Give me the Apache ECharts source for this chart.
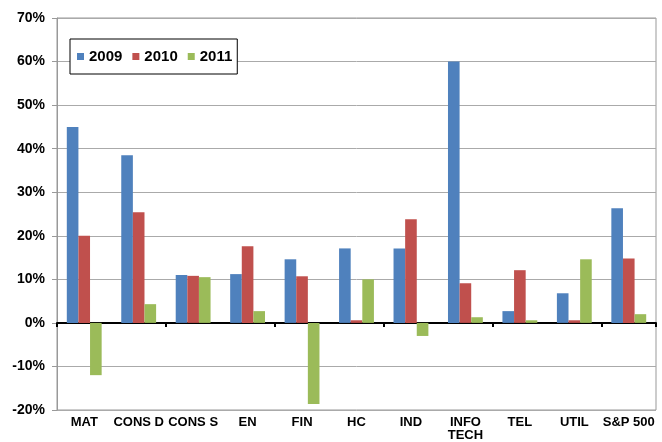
<!DOCTYPE html>
<html><head><meta charset="utf-8">
<script src="https://cdn.jsdelivr.net/npm/echarts@6/dist/echarts.min.js"></script>
<style>html,body{margin:0;padding:0;background:#fff}#c{width:662px;height:442px}</style>
</head><body><div id="c"></div>
<script>
const categories = ['MAT','CONS D','CONS S','EN','FIN','HC','IND','INFO\nTECH','TEL','UTIL','S&P 500'];
const v2009 = [45, 38.5, 11, 11.2, 14.6, 17.1, 17.1, 60, 2.7, 6.8, 26.3];
const v2010 = [20, 25.4, 10.8, 17.6, 10.7, 0.6, 23.8, 9.1, 12.1, 0.6, 14.8];
const v2011 = [-12, 4.3, 10.5, 2.7, -18.6, 10, -3, 1.3, 0.6, 14.6, 2];
const yTicks = {min: -20, max: 70, step: 10};
const seriesNames = ['2009','2010','2011'];
const colors = ['#4F81BD','#C0504D','#9BBB59'];

const font = 'Liberation Sans, Arial, sans-serif';
const chart = echarts.init(document.getElementById('c'));
chart.setOption({
  animation: false,
  color: colors,
  grid: {left: 57, right: 6, top: 18, bottom: 32, show: true, borderColor: '#999', borderWidth: 1,
         containLabel: false, outerBoundsMode: 'none'},
  legend: {
    data: seriesNames, left: 70, top: 39, orient: 'horizontal',
    backgroundColor: '#fff', borderColor: '#000', borderWidth: 1, borderRadius: 0,
    padding: [10, 5, 10, 7], itemGap: 10, itemWidth: 7, itemHeight: 7, icon: 'rect',
    textStyle: {fontFamily: font, fontWeight: 'bold', fontSize: 15, color: '#000'}
  },
  xAxis: [{
    type: 'category', data: categories, position: 'bottom',
    axisLine: {show: false, onZero: false}, axisTick: {show: false},
    axisLabel: {interval: 0, margin: 6, fontFamily: font, fontWeight: 'bold', fontSize: 13, color: '#000', lineHeight: 13}
  }, {
    type: 'category', data: categories, position: 'bottom',
    axisLine: {show: true, onZero: true, lineStyle: {color: '#000', width: 2}},
    axisTick: {show: true, length: 4, lineStyle: {color: '#000', width: 2}},
    axisLabel: {show: false}, splitLine: {show: false}
  }],
  yAxis: {
    type: 'value', min: yTicks.min, max: yTicks.max, interval: yTicks.step,
    axisLine: {show: true, lineStyle: {color: '#999'}},
    axisTick: {show: true, length: 5, lineStyle: {color: '#999'}},
    splitLine: {lineStyle: {color: '#aaa', width: 1}},
    axisLabel: {formatter: '{value}%', margin: 12, fontFamily: font, fontWeight: 'bold', fontSize: 14, color: '#000'}
  },
  series: [v2009, v2010, v2011].map((d, i) => ({
    name: seriesNames[i], type: 'bar', data: d, xAxisIndex: 0,
    barGap: '0%', barCategoryGap: '36%'
  }))
});
</script></body></html>
